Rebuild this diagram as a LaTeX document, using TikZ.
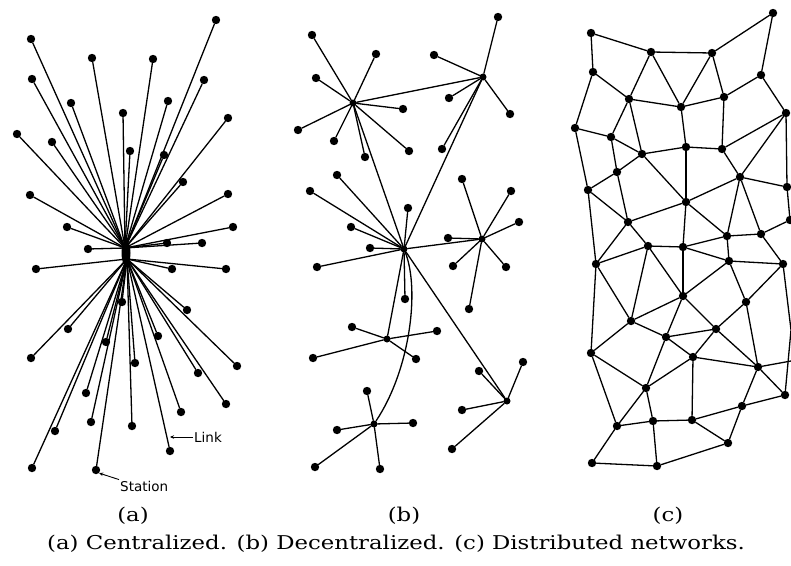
\documentclass[tikz,border=0pt]{standalone}
\usepackage{fontspec}
\newfontfamily\capfont{DejaVu Serif}
\newfontfamily\tagfont{DejaVu Sans}
\usetikzlibrary{arrows.meta}
\begin{document}
\begin{tikzpicture}[x=1pt,y=-1pt,
  link/.style={line width=1.3pt,line cap=round},
  dot/.style={circle,fill=black,inner sep=0pt,minimum size=8.4pt},
  hubdot/.style={circle,fill=black,inner sep=0pt,minimum size=7pt},
  tag/.style={font=\tagfont\fontsize{13.5}{15}\selectfont,inner sep=1pt},
  sublabel/.style={font=\capfont\fontsize{19}{21}\selectfont,xscale=1.2},
  caption/.style={font=\capfont\fontsize{19}{21}\selectfont,xscale=1.2}]
\useasboundingbox (0,0) rectangle (791,565);
% ---------- (a) centralized ----------
\coordinate (hA) at (125,248);
\coordinate (hB) at (127,259);
\fill (126,253) ellipse (4.5pt and 13pt);
\foreach \n/\x/\y in {a1/31/39, a2/216/20, a3/92/58, a4/153/59, a5/32/79, a6/204/80, a7/71/103, a8/168/101, a9/123/113, a10/228/118, a11/17/134, a12/52/142, a13/130/151, a14/164/155, a15/183/182, a16/30/195, a17/228/194, a18/67/227, a19/233/227, a20/167/243, a21/202/243, a22/88/249}
  {\node[dot] (\n) at (\x,\y) {}; \draw[link] (\n) -- (hA);}
\foreach \n/\x/\y in {a23/36/269, a24/172/269, a25/226/269, a26/122/302, a27/187/310, a28/68/329, a29/158/336, a30/106/342, a31/31/358, a32/135/363, a33/237/366, a34/198/373, a35/86/393, a36/226/404, a37/181/412, a38/91/422, a39/55/431, a40/132/426, a41/170/451, a42/32/468, a43/96/470}
  {\node[dot] (\n) at (\x,\y) {}; \draw[link] (\n) -- (hB);}
\coordinate (lk) at (170,437);
\node[tag,anchor=west] (linklbl) at (193,437) {Link};
\draw[line width=0.9pt,-{Stealth[length=4pt,width=3.5pt]}] (linklbl.west) -- (lk);
\node[tag,anchor=west] (stlbl) at (119,486) {Station};
\draw[line width=0.9pt,-{Stealth[length=4pt,width=3.5pt]}] (stlbl.north west) -- (a43.south east);
% ---------- (b) decentralized ----------
\foreach \n/\x/\y in {b1/353/103, b2/483/77, b3/404/249, b4/482/239, b5/387/339, b6/507/401, b7/374/424}
  {\node[hubdot] (\n) at (\x,\y) {};}
\foreach \h/\n/\x/\y in {b1/s11/312/35, b1/s12/376/54, b1/s13/316/78, b1/s14/403/109, b1/s15/298/130, b1/s16/334/141, b1/s17/365/157, b1/s18/409/151,
  b2/s21/498/17, b2/s22/434/55, b2/s23/449/98, b2/s24/510/114, b2/s25/442/149,
  b3/s31/310/191, b3/s32/337/175, b3/s33/408/208, b3/s34/351/227, b3/s35/370/248, b3/s36/317/267, b3/s37/405/299,
  b4/s41/462/179, b4/s42/511/191, b4/s43/519/222, b4/s44/448/238, b4/s45/453/266, b4/s46/506/267, b4/s47/469/309,
  b5/s51/352/327, b5/s52/437/331, b5/s53/313/358, b5/s54/416/359,
  b6/s61/523/362, b6/s62/479/371, b6/s63/462/410, b6/s64/452/449,
  b7/s71/367/391, b7/s72/337/430, b7/s73/413/423, b7/s74/315/467, b7/s75/380/469}
  {\node[dot] (\n) at (\x,\y) {}; \draw[link] (\n) -- (\h);}
\draw[link] (b1) -- (b2);
\draw[link] (b1) -- (b3);
\draw[link] (b2) -- (b3);
\draw[link] (b3) -- (b4);
\draw[link] (b3) -- (b5);
\draw[link] (b3) -- (b6);
\draw[link] (b7) .. controls (410,370) and (420,290) .. (b3);
% ---------- (c) distributed ----------
\foreach \n/\x/\y in {c1/591/33, c2/773/13, c3/651/52, c4/712/53, c5/593/72, c6/761/75, c7/629/99, c8/724/97, c9/681/107, c10/786/113, c11/575/128, c12/611/137, c13/686/147, c14/722/149, c15/642/154, c16/617/172, c17/740/177, c18/588/190, c19/787/187, c20/686/202, c21/628/222, c22/790/220, c23/727/236, c24/761/234, c25/648/246, c26/683/247, c27/596/264, c28/729/261, c29/783/264, c30/683/296, c31/746/302, c32/631/321, c33/716/329, c34/666/337, c35/591/353, c36/693/357, c37/758/367, c38/646/388, c39/785/395, c40/742/406, c41/617/426, c42/653/421, c43/692/420, c44/728/443, c45/592/463, c46/657/466}
  {\node[dot] (\n) at (\x,\y) {};}
\coordinate (r1) at (791,330);
\coordinate (r2) at (791,361);
\foreach \u/\v in {c1/c3, c1/c5, c3/c4, c4/c2, c2/c6, c5/c7, c5/c11, c3/c7, c3/c9, c4/c9, c4/c8, c6/c8, c6/c10, c7/c9, c9/c8, c7/c12, c7/c15, c9/c13, c8/c14, c10/c14, c10/c17, c10/c19, c11/c12, c11/c18, c12/c15, c12/c16, c15/c13, c13/c14, c15/c16, c15/c20, c16/c18, c13/c20, c14/c17, c17/c20, c17/c19, c17/c23, c17/c24, c20/c21, c21/c16, c21/c18, c20/c26, c20/c23, c21/c25, c21/c27, c18/c27, c27/c25, c25/c26, c25/c32, c25/c30, c26/c23, c26/c28, c26/c30, c23/c28, c23/c24, c24/c29, c28/c29, c24/c22, c22/c19, c27/c32, c27/c35, c30/c28, c30/c32, c30/c34, c30/c33, c28/c31, c29/c31, c31/c33, c32/c34, c32/c35, c34/c33, c34/c36, c33/c36, c33/c37, c36/c37, c31/c37, c35/c38, c34/c38, c36/c38, c35/c41, c36/c43, c37/c40, c37/c39, c38/c41, c38/c42, c41/c42, c42/c43, c43/c40, c43/c44, c44/c40, c41/c45, c42/c46, c45/c46, c46/c44, c39/c40, c37/r2}
  {\draw[link] (\u) -- (\v);}
\draw[link] (c29) -- (r1) -- (c39);
% ---------- labels ----------
\node[sublabel] (la) at (133,516) {(a)};
\node[sublabel] (lb) at (404,516) {(b)};
\node[sublabel] (lc) at (668,516) {(c)};
\node[caption] (cap) at (396,544) {(a) Centralized. (b) Decentralized. (c) Distributed networks.};
\end{tikzpicture}
\end{document}
